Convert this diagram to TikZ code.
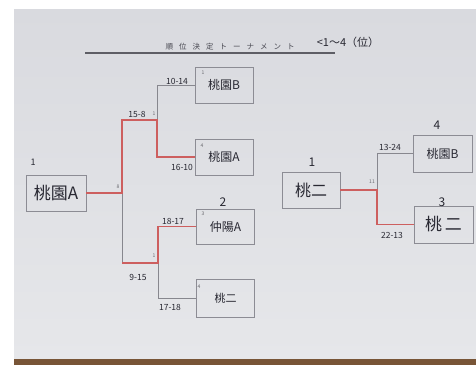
\documentclass[tikz,border=0pt]{standalone}
\usepackage{fontspec}
\setmainfont{Noto Sans CJK JP}
\definecolor{paperTop}{RGB}{217,218,223}
\definecolor{paperBot}{RGB}{230,231,234}
\definecolor{ink}{RGB}{40,40,50}
\definecolor{boxgray}{RGB}{140,140,148}
\definecolor{linegray}{RGB}{135,135,142}
\definecolor{winred}{RGB}{205,95,95}
\definecolor{wood}{RGB}{120,85,55}
\newcommand{\fs}[1]{\fontsize{#1}{#1}\selectfont}
\begin{document}
\begin{tikzpicture}[x=1pt,y=-1pt,
  box/.style={draw=boxgray, line width=0.9pt, inner sep=0pt, text=ink,
              minimum width=58pt, minimum height=36pt},
  wire/.style={draw=linegray, line width=1pt},
  win/.style={draw=winred, line width=1.3pt},
  score/.style={text=ink, inner sep=0pt, font=\fs{8.5}},
  rank/.style={text=ink, inner sep=0pt, font=\fs{12}},
  tiny/.style={text=ink!70, inner sep=0pt, font=\fs{5}}]
% background: white margin, paper, wood
\fill[white] (0,0) rectangle (476,365);
\shade[top color=paperTop, bottom color=paperBot] (14,9) rectangle (476,359);
\fill[wood] (14,359) rectangle (476,365);
\useasboundingbox (0,0) rectangle (476,365);

% title
\node[text=ink!85, inner sep=0pt, font=\fs{7.5}] (title) at (230,47)
  {順\hspace{6pt}位\hspace{6pt}決\hspace{6pt}定\hspace{6pt}ト\hspace{6pt}ー\hspace{6pt}ナ\hspace{6pt}メ\hspace{6pt}ン\hspace{6pt}ト};
\node[text=ink, inner sep=0pt, font=\fs{11}] (range) at (348,42) {<1〜4（位）};
\coordinate (tl1) at (85,53);
\coordinate (tl2) at (335,53);
\draw[draw=ink!75, line width=1.4pt] (tl1) -- (tl2);

% boxes
\node[box, minimum width=60pt, font=\fs{17}] (lA) at (56,193) {桃園A};
\node[box, font=\fs{12}] (tB) at (224,85) {桃園B};
\node[box, font=\fs{12}] (tA) at (224,157) {桃園A};
\node[box, minimum height=35pt, font=\fs{12}] (nA) at (225.5,226.5) {仲陽A};
\node[box, minimum height=38pt, font=\fs{11}] (n2) at (225.5,298) {桃二};
\node[box, font=\fs{16}] (c2) at (311,190) {桃二};
\node[box, minimum width=59pt, minimum height=37pt, font=\fs{12}] (rB) at (442.5,153.5) {桃園B};
\node[box, minimum width=59pt, minimum height=37pt, font=\fs{17}] (r2) at (443.5,224.5) {桃\,二};

% junctions
\coordinate (jL) at (122,193);
\coordinate (jT) at (157,120);
\coordinate (jB) at (158,263);
\coordinate (jR) at (377,190);

% left bracket
\draw[wire] (jT) |- (tB.west);
\draw[wire] (jL) -- (jL |- jB);
\draw[wire] (jB) |- (n2.west);
\draw[win] (lA.east) -- (jL) |- (jT) |- (tA.west);
\draw[win] (jL |- jB) -- (jB) |- (nA.west);
% right bracket
\draw[wire] (jR) |- (rB.west);
\draw[win] (c2.east) -- (jR) |- (r2.west);

% scores
\node[score] (s1) at (137,114) {15-8};
\node[score] (s2) at (177,81) {10-14};
\node[score] (s3) at (182,167) {16-10};
\node[score] (s4) at (173,221) {18-17};
\node[score] (s5) at (138,277) {9-15};
\node[score] (s6) at (170,307) {17-18};
\node[score] (s7) at (390,147) {13-24};
\node[score] (s8) at (392,235) {22-13};

% ranks
\node[rank, font=\fs{9}] (k1) at (33,162) {1};
\node[rank] (k2) at (223,202) {2};
\node[rank] (k3) at (312,162) {1};
\node[rank] (k4) at (437,125) {4};
\node[rank] (k5) at (442,202) {3};

% tiny seed marks
\node[tiny] (m1) at (203,73) {1};
\node[tiny] (m2) at (202,146) {4};
\node[tiny] (m3) at (203,214) {3};
\node[tiny] (m4) at (199,287) {4};
\node[tiny] (m5) at (118,187) {8};
\node[tiny] (m6) at (154,114) {1};
\node[tiny] (m7) at (154,256) {1};
\node[tiny] (m8) at (372,182) {11};
\end{tikzpicture}
\end{document}
